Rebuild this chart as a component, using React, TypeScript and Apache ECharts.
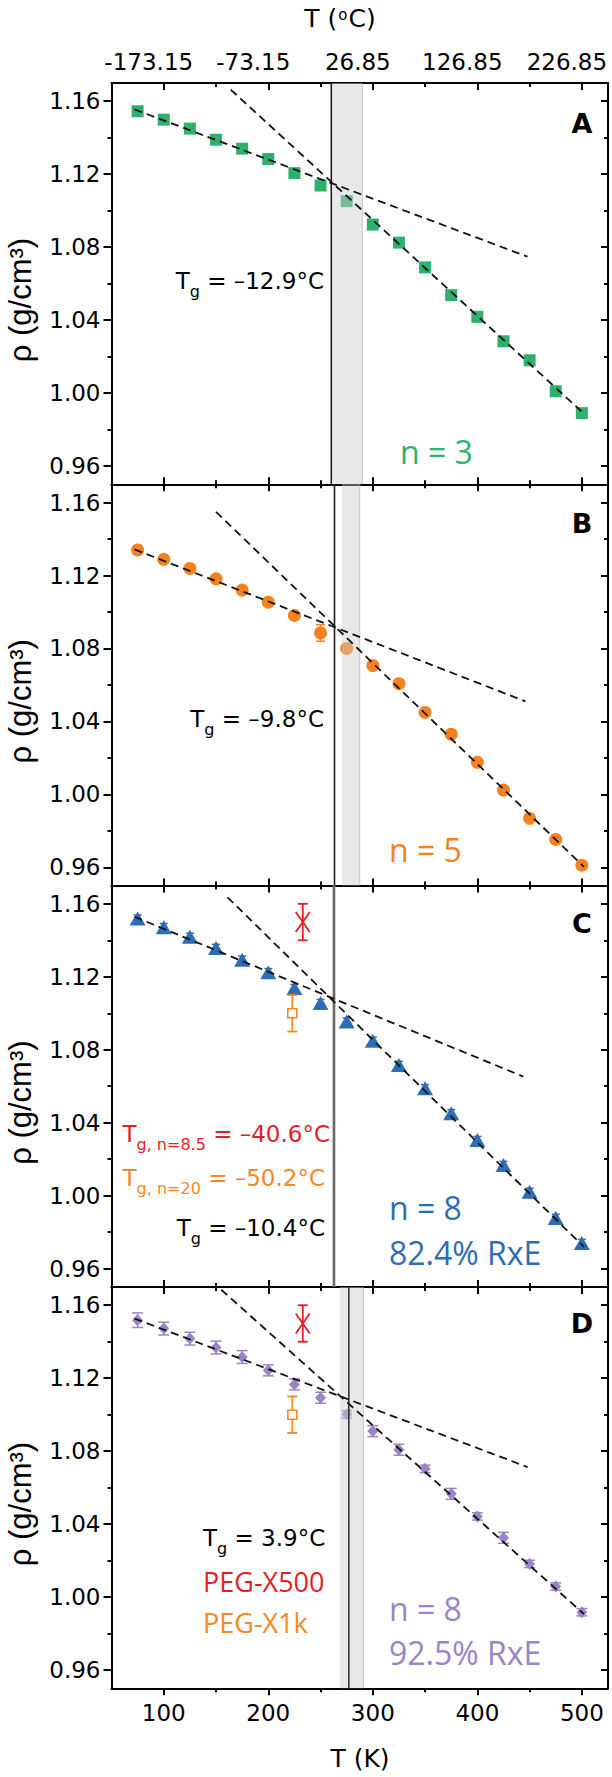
import React, { useEffect, useRef } from 'react';
import * as echarts from 'echarts';

// ---------------- data ----------------
const temperaturesK = [75, 100, 125, 150, 175, 200, 225, 250, 275, 300, 325, 350, 375, 400, 425, 450, 475, 500];

const densityA = [1.1545, 1.1499, 1.145, 1.1389, 1.134, 1.1283, 1.1206, 1.1138, 1.1052, 1.0924, 1.0825, 1.0689, 1.0537, 1.0418, 1.0284, 1.018, 1.001, 0.989];
const errorA = [0.002, 0.002, 0.002, 0.002, 0.002, 0.002, 0.002, 0.002, 0.002, 0.002, 0.002, 0.002, 0.002, 0.002, 0.002, 0.002, 0.002, 0.002];

const densityB = [1.134, 1.1289, 1.1239, 1.1182, 1.112, 1.1054, 1.0981, 1.0885, 1.08, 1.0706, 1.0607, 1.0449, 1.033, 1.0176, 1.0024, 0.9869, 0.9753, 0.9612];
const errorB = [0.002, 0.002, 0.002, 0.002, 0.002, 0.002, 0.002, 0.0045, 0.002, 0.002, 0.002, 0.002, 0.002, 0.002, 0.002, 0.002, 0.002, 0.001];

const densityC = [1.1519, 1.1472, 1.1419, 1.1358, 1.1294, 1.1225, 1.1138, 1.1056, 1.0955, 1.0849, 1.0717, 1.0589, 1.0452, 1.0305, 1.0168, 1.0021, 0.9878, 0.9741];
const errorC = [0.002, 0.002, 0.002, 0.002, 0.002, 0.002, 0.002, 0.002, 0.002, 0.002, 0.002, 0.002, 0.002, 0.002, 0.002, 0.002, 0.002, 0.002];

const densityD = [1.1518, 1.1472, 1.1417, 1.1368, 1.1316, 1.1243, 1.1166, 1.1093, 1.1002, 1.091, 1.0808, 1.0703, 1.0566, 1.0442, 1.0325, 1.0182, 1.0058, 0.9917];
const errorD = [0.004, 0.0035, 0.0035, 0.0035, 0.0035, 0.003, 0.003, 0.003, 0.002, 0.003, 0.003, 0.002, 0.003, 0.002, 0.003, 0.002, 0.002, 0.002];

// dashed linear fits: [T (K), rho] end points
const glassFitA = [[72, 1.1555], [448, 1.0748]];
const meltFitA = [[164, 1.1664], [502, 0.9887]];
const glassFitB = [[72, 1.1343], [446, 1.051]];
const meltFitB = [[150, 1.1549], [502, 0.9603]];
const glassFitC = [[72, 1.1529], [444, 1.0653]];
const meltFitC = [[161, 1.1636], [502, 0.9719]];
const glassFitD = [[72, 1.1527], [448, 1.0713]];
const meltFitD = [[155, 1.1685], [502, 0.9907]];

// glass transition (K) and shaded range (K)
const tgLineK = [260.25, 263.35, 262.75, 277.05];
const tgBandK = [[260.25, 290], [270.5, 287.5], [261.5, 264], [268.5, 291]];

// reference PEG points: [T (K), rho, error]
const pegX500 = [[233, 1.15, 0.01]];
const pegX1k = [[223, 1.1, 0.01]];

const xTicksMajor = [100, 200, 300, 400, 500];
const xTicksMinor = [150, 250, 350, 450];
const yTicksMajor = [0.96, 1.0, 1.04, 1.08, 1.12, 1.16];
const yTicksMinor = [0.98, 1.02, 1.06, 1.1, 1.14];

// ---------------- style ----------------
const FONT = "'DejaVu Sans', sans-serif";
const FONT2 = "'Open Sans', sans-serif";
const GREEN = '#2eb16c';
const ORANGE = '#f5821f';
const BLUE = '#2d6db5';
const PURPLE = '#9a84c6';
const RED = '#e41e26';
const ORANGE2 = '#f7881f';

const GRID_LEFT = 111.5;
const GRID_W = 496.5;
const GRID_H = 401.3;
const GRID_TOPS = [83, 484.3, 885.6, 1287];
const X_MIN = 50;
const X_MAX = 525;
// top (Celsius) labels sit ~15 px left of their ticks in the reference
const TOP_LABEL_SHIFT_K = 15 / (GRID_W / (X_MAX - X_MIN));

function errorBars(i: number, dens: number[], errs: number[], color: string, capW: number) {
  return {
    type: 'custom',
    xAxisIndex: i * 4,
    yAxisIndex: i * 4,
    z: 2,
    silent: true,
    data: temperaturesK.map((t, k) => [t, dens[k] - errs[k], dens[k] + errs[k]]),
    renderItem: (params: any, api: any) => {
      const lo = api.coord([api.value(0), api.value(1)]);
      const hi = api.coord([api.value(0), api.value(2)]);
      const st = { stroke: color, lineWidth: 1.5 };
      return {
        type: 'group',
        children: [
          { type: 'line', shape: { x1: lo[0], y1: lo[1], x2: hi[0], y2: hi[1] }, style: st },
          { type: 'line', shape: { x1: lo[0] - capW / 2, y1: lo[1], x2: lo[0] + capW / 2, y2: lo[1] }, style: st },
          { type: 'line', shape: { x1: hi[0] - capW / 2, y1: hi[1], x2: hi[0] + capW / 2, y2: hi[1] }, style: st },
        ],
      };
    },
  };
}

function bandSeries(i: number) {
  return {
    type: 'custom',
    xAxisIndex: i * 4,
    yAxisIndex: i * 4,
    z: 3,
    silent: true,
    data: [tgBandK[i]],
    renderItem: (params: any, api: any) => {
      const cs = params.coordSys;
      const a = api.coord([api.value(0), 1.0])[0];
      const b = api.coord([api.value(1), 1.0])[0];
      return {
        type: 'group',
        children: [
          { type: 'rect', shape: { x: a, y: cs.y, width: b - a, height: cs.height }, style: { fill: 'rgba(205,205,205,0.45)' } },
          { type: 'line', shape: { x1: b, y1: cs.y, x2: b, y2: cs.y + cs.height }, style: { stroke: 'rgba(170,170,170,0.6)', lineWidth: 1 } },
        ],
      };
    },
  };
}

function tgLineSeries(i: number, color: string, width: number) {
  return {
    type: 'custom',
    xAxisIndex: i * 4,
    yAxisIndex: i * 4,
    z: 4,
    silent: true,
    data: [[tgLineK[i]]],
    renderItem: (params: any, api: any) => {
      const cs = params.coordSys;
      const x = api.coord([api.value(0), 1.0])[0];
      return { type: 'line', shape: { x1: x, y1: cs.y, x2: x, y2: cs.y + cs.height }, style: { stroke: color, lineWidth: width } };
    },
  };
}

function fitSeries(i: number, pts: number[][]) {
  return {
    type: 'line',
    xAxisIndex: i * 4,
    yAxisIndex: i * 4,
    z: 5,
    silent: true,
    showSymbol: false,
    symbol: 'none',
    data: pts,
    lineStyle: { color: '#111', width: 1.8, type: [8, 5] },
  };
}

function pegXSeries(i: number) {
  return {
    type: 'custom',
    xAxisIndex: i * 4,
    yAxisIndex: i * 4,
    z: 5,
    silent: true,
    data: pegX500,
    renderItem: (params: any, api: any) => {
      const c = api.coord([api.value(0), api.value(1)]);
      const lo = api.coord([api.value(0), api.value(1) - api.value(2)]);
      const hi = api.coord([api.value(0), api.value(1) + api.value(2)]);
      const st = { stroke: RED, lineWidth: 1.8 };
      return {
        type: 'group',
        children: [
          { type: 'line', shape: { x1: lo[0], y1: lo[1], x2: hi[0], y2: hi[1] }, style: st },
          { type: 'line', shape: { x1: lo[0] - 5, y1: lo[1], x2: lo[0] + 5, y2: lo[1] }, style: st },
          { type: 'line', shape: { x1: hi[0] - 5, y1: hi[1], x2: hi[0] + 5, y2: hi[1] }, style: st },
          { type: 'line', shape: { x1: c[0] - 7, y1: c[1] - 10, x2: c[0] + 7, y2: c[1] + 10 }, style: st },
          { type: 'line', shape: { x1: c[0] + 7, y1: c[1] - 10, x2: c[0] - 7, y2: c[1] + 10 }, style: st },
        ],
      };
    },
  };
}

function pegSquareSeries(i: number) {
  return {
    type: 'custom',
    xAxisIndex: i * 4,
    yAxisIndex: i * 4,
    z: 5,
    silent: true,
    data: pegX1k,
    renderItem: (params: any, api: any) => {
      const c = api.coord([api.value(0), api.value(1)]);
      const lo = api.coord([api.value(0), api.value(1) - api.value(2)]);
      const hi = api.coord([api.value(0), api.value(1) + api.value(2)]);
      const st = { stroke: ORANGE2, lineWidth: 1.8 };
      const h = 4.5;
      return {
        type: 'group',
        children: [
          { type: 'line', shape: { x1: lo[0], y1: lo[1], x2: c[0], y2: c[1] + h }, style: st },
          { type: 'line', shape: { x1: c[0], y1: c[1] - h, x2: hi[0], y2: hi[1] }, style: st },
          { type: 'line', shape: { x1: lo[0] - 5, y1: lo[1], x2: lo[0] + 5, y2: lo[1] }, style: st },
          { type: 'line', shape: { x1: hi[0] - 5, y1: hi[1], x2: hi[0] + 5, y2: hi[1] }, style: st },
          { type: 'rect', shape: { x: c[0] - h, y: c[1] - h, width: 2 * h, height: 2 * h }, style: { stroke: ORANGE2, lineWidth: 1.6, fill: '#fff' } },
        ],
      };
    },
  };
}

function scatterSeries(i: number, dens: number[], symbol: string, size: any, color: string) {
  return {
    type: 'scatter',
    xAxisIndex: i * 4,
    yAxisIndex: i * 4,
    z: 2,
    silent: true,
    symbol,
    symbolSize: size,
    itemStyle: { color, opacity: 1 },
    data: temperaturesK.map((t, k) => [t, dens[k]]),
  };
}

function tgText(x: number, y: number, sub: string, rest: string, color: string, align: string) {
  return {
    type: 'text',
    x,
    y: y + 2,
    z: 10,
    silent: true,
    style: {
      text: `{t|T}{s|${sub}}{t|${rest}}`,
      textAlign: align,
      textVerticalAlign: 'middle',
      fill: color,
      rich: {
        t: { fontSize: 23, fontFamily: FONT, fill: color, lineHeight: 26, verticalAlign: 'top' },
        s: { fontSize: 16, fontFamily: FONT, fill: color, lineHeight: 16, verticalAlign: 'top', padding: [14, 0, 0, 0] },
      },
    },
  };
}

function plainText(x: number, y: number, text: string, color: string, size: number, family: string, align = 'left', weight = 'normal') {
  return {
    type: 'text',
    x,
    y,
    z: 10,
    silent: true,
    style: { text, fill: color, fontSize: size, fontFamily: family, fontWeight: weight, textAlign: align, textVerticalAlign: 'middle' },
  };
}

function buildOption() {
  const grid: any[] = [];
  const xAxis: any[] = [];
  const yAxis: any[] = [];
  const axisLineStyle = { color: '#000', width: 2 };
  const tickStyle = { color: '#000', width: 2 };
  for (let i = 0; i < 4; i++) {
    grid.push({ left: GRID_LEFT, top: GRID_TOPS[i], width: GRID_W, height: GRID_H });
    const isLast = i === 3;
    const bx = { type: 'value', gridIndex: i, min: X_MIN, max: X_MAX, splitLine: { show: false } };
    xAxis.push({
      ...bx,
      position: 'bottom',
      axisLine: { show: true, onZero: false, lineStyle: axisLineStyle },
      axisTick: { show: true, inside: !isLast, length: 7, customValues: xTicksMajor, lineStyle: tickStyle },
      axisLabel: { show: isLast, customValues: xTicksMajor, fontSize: 23, fontFamily: FONT, color: '#000', margin: 13, lineHeight: 24 },
    });
    xAxis.push({
      ...bx,
      position: 'bottom',
      axisLine: { show: false, onZero: false },
      axisTick: { show: true, inside: !isLast, length: 4, customValues: xTicksMinor, lineStyle: tickStyle },
      axisLabel: { show: false },
    });
    xAxis.push({
      ...bx,
      position: 'top',
      axisLine: { show: true, onZero: false, lineStyle: axisLineStyle },
      axisTick: { show: true, inside: true, length: 7, customValues: xTicksMajor, lineStyle: tickStyle },
      axisLabel: { show: false },
    });
    xAxis.push({
      ...bx,
      position: 'top',
      axisLine: { show: false, onZero: false },
      axisTick: { show: true, inside: true, length: 4, customValues: xTicksMinor, lineStyle: tickStyle },
      axisLabel: { show: false },
    });
    const by = { type: 'value', gridIndex: i, min: 0.95, max: 1.17, splitLine: { show: false } };
    yAxis.push({
      ...by,
      position: 'left',
      axisLine: { show: true, onZero: false, lineStyle: axisLineStyle },
      axisTick: { show: true, inside: false, length: 8, customValues: yTicksMajor, lineStyle: tickStyle },
      axisLabel: { show: true, customValues: yTicksMajor, formatter: (v: number) => v.toFixed(2), fontSize: 23, fontFamily: FONT, color: '#000', margin: 11 },
    });
    yAxis.push({
      ...by,
      position: 'left',
      axisLine: { show: false, onZero: false },
      axisTick: { show: true, inside: false, length: 4, customValues: yTicksMinor, lineStyle: tickStyle },
      axisLabel: { show: false },
    });
    yAxis.push({
      ...by,
      position: 'right',
      axisLine: { show: true, onZero: false, lineStyle: axisLineStyle },
      axisTick: { show: true, inside: true, length: 7, customValues: yTicksMajor, lineStyle: tickStyle },
      axisLabel: { show: false },
    });
    yAxis.push({
      ...by,
      position: 'right',
      axisLine: { show: false, onZero: false },
      axisTick: { show: true, inside: true, length: 4, customValues: yTicksMinor, lineStyle: tickStyle },
      axisLabel: { show: false },
    });
  }
  // Celsius labels of the top axis (panel A), same K scale shifted by the label offset
  xAxis.push({
    type: 'value',
    gridIndex: 0,
    position: 'top',
    min: X_MIN + TOP_LABEL_SHIFT_K,
    max: X_MAX + TOP_LABEL_SHIFT_K,
    splitLine: { show: false },
    axisLine: { show: false, onZero: false },
    axisTick: { show: false },
    axisLabel: {
      show: true,
      customValues: xTicksMajor,
      showMinLabel: true,
      showMaxLabel: true,
      formatter: (v: number) => (v - 273.15).toFixed(2),
      fontSize: 23,
      fontFamily: FONT,
      color: '#000',
      margin: 9,
      lineHeight: 24,
    },
  });

  const series: any[] = [
    // A
    errorBars(0, densityA, errorA, GREEN, 9),
    scatterSeries(0, densityA, 'rect', 12, GREEN),
    bandSeries(0),
    fitSeries(0, glassFitA),
    fitSeries(0, meltFitA),
    tgLineSeries(0, '#222', 1.6),
    // B
    errorBars(1, densityB, errorB, ORANGE, 9),
    scatterSeries(1, densityB, 'circle', 13, ORANGE),
    bandSeries(1),
    fitSeries(1, glassFitB),
    fitSeries(1, meltFitB),
    tgLineSeries(1, '#222', 1.6),
    // C
    errorBars(2, densityC, errorC, BLUE, 8),
    scatterSeries(2, densityC, 'triangle', [16, 14], BLUE),
    bandSeries(2),
    fitSeries(2, glassFitC),
    fitSeries(2, meltFitC),
    tgLineSeries(2, '#6a6a6a', 2.4),
    pegXSeries(2),
    pegSquareSeries(2),
    // D
    errorBars(3, densityD, errorD, PURPLE, 11),
    scatterSeries(3, densityD, 'diamond', [11, 12], PURPLE),
    bandSeries(3),
    fitSeries(3, glassFitD),
    fitSeries(3, meltFitD),
    tgLineSeries(3, '#333', 1.6),
    pegXSeries(3),
    pegSquareSeries(3),
  ];

  const graphic: any[] = [
    {
      type: 'text',
      x: 340,
      y: 20,
      silent: true,
      style: {
        text: '{a|T (}{s|o}{a|C)}',
        textAlign: 'center',
        textVerticalAlign: 'middle',
        fill: '#000',
        rich: {
          a: { fontSize: 25, fontFamily: FONT, fill: '#000', lineHeight: 28, verticalAlign: 'top' },
          s: { fontSize: 15, fontFamily: FONT, fill: '#000', lineHeight: 15, verticalAlign: 'top', padding: [1, 1, 0, 1] },
        },
      },
    },
    plainText(360, 1758, 'T (K)', '#000', 25, FONT, 'center'),
    ...GRID_TOPS.map((top) => ({
      type: 'text',
      x: 20,
      y: top + 217,
      rotation: Math.PI / 2,
      silent: true,
      style: { text: 'ρ (g/cm³)', fill: '#000', fontSize: 31, fontFamily: "'Liberation Sans', Arial, sans-serif", textAlign: 'center', textVerticalAlign: 'middle' },
    })),
    plainText(582, 123, 'A', '#000', 27, FONT, 'center', 'bold'),
    plainText(582, 523, 'B', '#000', 27, FONT, 'center', 'bold'),
    plainText(582, 923, 'C', '#000', 27, FONT, 'center', 'bold'),
    plainText(582, 1323, 'D', '#000', 27, FONT, 'center', 'bold'),
    tgText(324, 280, 'g', ' = –12.9°C', '#000', 'right'),
    tgText(324, 718, 'g', ' = –9.8°C', '#000', 'right'),
    tgText(330, 1133, 'g, n=8.5', ' = –40.6°C', RED, 'right'),
    tgText(325, 1177, 'g, n=20', ' = –50.2°C', ORANGE2, 'right'),
    tgText(325, 1227, 'g', ' = –10.4°C', '#000', 'right'),
    tgText(203, 1537, 'g', ' = 3.9°C', '#000', 'left'),
    plainText(203, 1581, 'PEG-X500', RED, 27, FONT2, 'left'),
    plainText(203, 1622, 'PEG-X1k', ORANGE2, 27, FONT2, 'left'),
    plainText(400, 451, 'n = 3', GREEN, 32, FONT2, 'left'),
    plainText(389, 849, 'n = 5', ORANGE, 32, FONT2, 'left'),
    plainText(389, 1207, 'n = 8', BLUE, 32, FONT2, 'left'),
    plainText(389, 1252, '82.4% RxE', BLUE, 32, FONT2, 'left'),
    plainText(389, 1608, 'n = 8', PURPLE, 32, FONT2, 'left'),
    plainText(389, 1652, '92.5% RxE', PURPLE, 32, FONT2, 'left'),
  ];

  return { animation: false, backgroundColor: '#fff', grid, xAxis, yAxis, series, graphic };
}

export default function App() {
  const ref = useRef<HTMLDivElement>(null);
  useEffect(() => {
    document.body.style.margin = '0';
    if (!ref.current) return;
    const chart = echarts.init(ref.current, undefined, { renderer: 'svg' });
    chart.setOption(buildOption() as any);
    return () => chart.dispose();
  }, []);
  return <div ref={ref} style={{ width: 612, height: 1777 }} />;
}
